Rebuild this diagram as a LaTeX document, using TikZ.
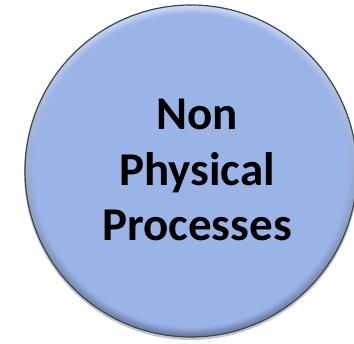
\documentclass[tikz,border=0pt]{standalone}
\usepackage{fontspec}
\setmainfont{Carlito}
\usepackage{tikz}
\usetikzlibrary{calc}
\definecolor{ballfill}{HTML}{9AB4E8}
\definecolor{ballrim}{HTML}{3E454E}
\definecolor{balllight}{HTML}{CAD9F6}
\definecolor{balldark}{HTML}{6A7EA6}
\def\ballfont{\bfseries\fontsize{47}{55.7}\selectfont}

\begin{document}
\begin{tikzpicture}[x=1pt,y=1pt]
\useasboundingbox (0,0) rectangle (354,344);
\clip (0,0) rectangle (354,344);
\coordinate (c) at (191,173);
% soft shadow under the ball
\fill[black!45,opacity=0.5] ($(c)+(0,-2)$) circle (167);
\shade[top color=balllight,bottom color=balldark] (c) circle (166);
% blend the bevel into the flat face
\foreach \r/\o in {164/0.15,162/0.3,160/0.5,158/0.75,156/1}
  \fill[ballfill,opacity=\o] (c) circle (\r);
\draw[ballrim,line width=1.2pt] (c) circle (166);
\node[align=center,font=\ballfont] (label) at (197,174) {Non\\Physical\\Processes};
\end{tikzpicture}
\end{document}
